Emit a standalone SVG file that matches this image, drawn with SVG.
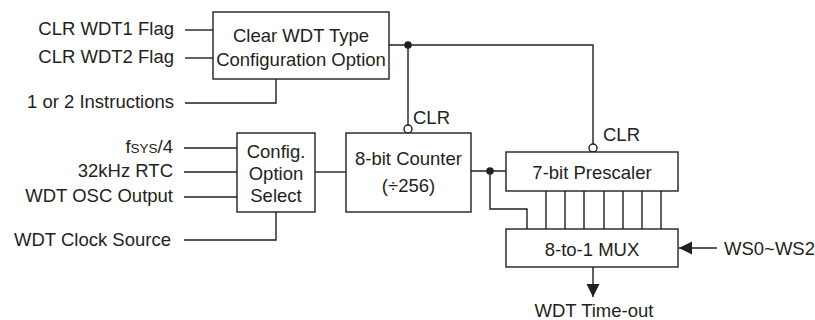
<svg xmlns="http://www.w3.org/2000/svg" width="815" height="320" viewBox="0 0 815 320">
<style>
.box{fill:#fff;stroke:#231f20;stroke-width:1.4}
.ln{fill:none;stroke:#231f20;stroke-width:1.4}
.dot{fill:#231f20}
.inv{fill:#fff;stroke:#231f20;stroke-width:1.4}
text{font-family:"Liberation Sans",Arial,sans-serif;font-size:18.5px;fill:#231f20}
.r{text-anchor:end}
.c{text-anchor:middle}
</style>
<defs>
<marker id="arr" markerWidth="14" markerHeight="14" refX="13" refY="6.5" orient="auto" markerUnits="userSpaceOnUse">
<path d="M0,0 L13,6.5 L0,13 Z" fill="#231f20"/>
</marker>
</defs>
<rect width="815" height="320" fill="#fff"/>
<g id="connectors">
<path class="ln" d="M185,30 H213"/>
<path class="ln" d="M185,58 H213"/>
<path class="ln" d="M185,103 H276 V79"/>
<path class="ln" d="M389,45 H593 V144"/>
<path class="ln" d="M408,45 V125"/>
<path class="ln" d="M184,148 H237"/>
<path class="ln" d="M184,172 H237"/>
<path class="ln" d="M184,197 H237"/>
<path class="ln" d="M184,240 H276 V212"/>
<path class="ln" d="M315,172 H346"/>
<path class="ln" d="M471,171 H506"/>
<path class="ln" d="M490,171 V209 H527 V229"/>
<path class="ln" d="M546,191 V229 M565,191 V229 M584,191 V229 M604,191 V229 M623,191 V229 M642,191 V229 M661,191 V229"/>
<path class="ln" d="M593,267 V297" marker-end="url(#arr)"/>
<path class="ln" d="M717,248 H679" marker-end="url(#arr)"/>
<circle class="dot" cx="408" cy="45" r="3.8"/>
<circle class="dot" cx="490" cy="171" r="3.8"/>
<circle class="inv" cx="408" cy="129" r="4"/>
<circle class="inv" cx="593" cy="148" r="4"/>
</g>
<g id="inputs-clr">
<text class="r" x="174" y="35">CLR WDT1 Flag</text>
<text class="r" x="174" y="63">CLR WDT2 Flag</text>
<text class="r" x="174" y="108">1 or 2 Instructions</text>
</g>
<g id="inputs-clk">
<text class="r" x="173" y="153">f<tspan font-size="13.5">SYS</tspan>/4</text>
<text class="r" x="173" y="177">32kHz RTC</text>
<text class="r" x="173" y="202">WDT OSC Output</text>
<text class="r" x="171" y="246">WDT Clock Source</text>
</g>
<g id="clear-wdt">
<rect class="box" x="213" y="12" width="176" height="67"/>
<text class="c" x="301" y="42">Clear WDT Type</text>
<text class="c" x="301" y="66">Configuration Option</text>
</g>
<g id="config-select">
<rect class="box" x="237" y="133" width="78" height="79"/>
<text class="c" x="276" y="158">Config.</text>
<text class="c" x="276" y="180">Option</text>
<text class="c" x="276" y="202">Select</text>
</g>
<g id="counter">
<rect class="box" x="346" y="133" width="125" height="79"/>
<text class="c" x="408.5" y="165">8-bit Counter</text>
<text class="c" x="408.5" y="192">(÷256)</text>
<text x="413" y="124">CLR</text>
</g>
<g id="prescaler">
<rect class="box" x="506" y="152" width="172" height="39"/>
<text class="c" x="592" y="178.5">7-bit Prescaler</text>
<text x="603" y="141">CLR</text>
</g>
<g id="mux">
<rect class="box" x="506" y="229" width="172" height="38"/>
<text class="c" x="592" y="256">8-to-1 MUX</text>
</g>
<g id="ws">
<text x="724" y="255">WS0~WS2</text>
</g>
<g id="timeout">
<text class="c" x="594" y="317">WDT Time-out</text>
</g>
</svg>
